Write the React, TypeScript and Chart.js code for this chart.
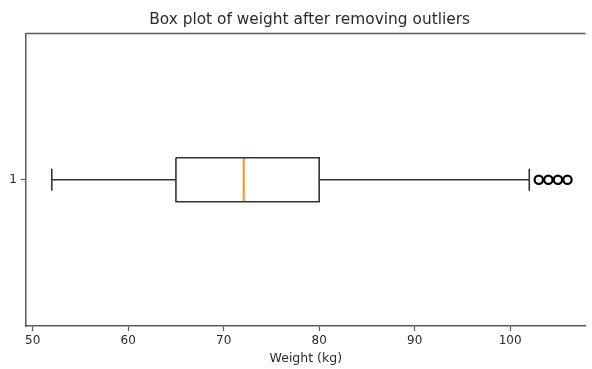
import React, { useEffect, useRef } from "react";
import { Chart, registerables } from "chart.js";

Chart.register(...registerables);

// ---- data ----
const categories = ["1"];
const positions = [1];
const q1Values = [65];
const medianValues = [72.1];
const q3Values = [80];
const whiskerLowValues = [52];
const whiskerHighValues = [102];
const outlierValues = [[103, 104, 105, 106]];
const xTickValues = [50, 60, 70, 80, 90, 100];
const xRange = [49.3, 107.9];
const yRange = [0.5, 1.5];
const titleText = "Box plot of weight after removing outliers";
const xLabelText = "Weight (kg)";

// ---- styling ----
const BOX_WIDTH = 0.15;
const CAP_WIDTH = 0.075;
const LINE_COLOR = "#333333";
const MEDIAN_COLOR = "#ff8c1a";
const TEXT_COLOR = "#2a2a2a";
const SPINE_COLOR = "#5a5a5a";
const FONT = "'DejaVu Sans', sans-serif";

export default function App() {
  const ref = useRef<HTMLCanvasElement | null>(null);

  useEffect(() => {
    if (!ref.current) return;
    const datasets: any[] = [];
    const lineDs = (data: any[], color: string, width: number) => ({
      type: "scatter",
      data,
      showLine: true,
      borderColor: color,
      borderWidth: width,
      pointRadius: 0,
      pointHoverRadius: 0,
      fill: false,
      tension: 0,
    });
    positions.forEach((p, i) => {
      const h = BOX_WIDTH / 2;
      const c = CAP_WIDTH / 2;
      const q1 = q1Values[i];
      const q3 = q3Values[i];
      const md = medianValues[i];
      const wl = whiskerLowValues[i];
      const wh = whiskerHighValues[i];
      datasets.push(
        lineDs(
          [
            { x: q1, y: p - h },
            { x: q3, y: p - h },
            { x: q3, y: p + h },
            { x: q1, y: p + h },
            { x: q1, y: p - h },
          ],
          LINE_COLOR,
          1.6
        )
      );
      datasets.push(lineDs([{ x: wl, y: p }, { x: q1, y: p }], LINE_COLOR, 1.6));
      datasets.push(lineDs([{ x: q3, y: p }, { x: wh, y: p }], LINE_COLOR, 1.6));
      datasets.push(lineDs([{ x: wl, y: p - c }, { x: wl, y: p + c }], LINE_COLOR, 1.6));
      datasets.push(lineDs([{ x: wh, y: p - c }, { x: wh, y: p + c }], LINE_COLOR, 1.6));
      datasets.push(lineDs([{ x: md, y: p - h }, { x: md, y: p + h }], MEDIAN_COLOR, 2));
      datasets.push({
        type: "scatter",
        data: outlierValues[i].map((v) => ({ x: v, y: p })),
        showLine: false,
        pointRadius: 4.2,
        pointHoverRadius: 4.2,
        pointBorderWidth: 2.2,
        pointBorderColor: "#000000",
        pointBackgroundColor: "rgba(255,255,255,0)",
        borderColor: "#000000",
      });
    });

    const frame = {
      id: "frame",
      afterLayout(chart: any) {
        const ca = chart.chartArea;
        if (chart.titleBlock) {
          chart.titleBlock.left = ca.left;
          chart.titleBlock.right = ca.left + (ca.right - ca.left) * (59.4 / (xRange[1] - xRange[0]));
        }
      },
      afterDatasetsDraw(chart: any) {
        const ctx = chart.ctx;
        const ca = chart.chartArea;
        ctx.save();
        ctx.strokeStyle = SPINE_COLOR;
        ctx.lineWidth = 1.5;
        ctx.beginPath();
        ctx.moveTo(ca.left, ca.top);
        ctx.lineTo(ca.right, ca.top);
        ctx.stroke();
        ctx.restore();
      },
    };

    const chart = new Chart(ref.current, {
      type: "scatter",
      data: { datasets },
      plugins: [frame],
      options: {
        animation: false,
        responsive: false,
        devicePixelRatio: 1,
        layout: { padding: 0 },
        plugins: {
          legend: { display: false },
          tooltip: { enabled: false },
          title: {
            display: true,
            text: titleText,
            color: TEXT_COLOR,
            font: { family: FONT, size: 15.4, weight: "normal" },
            padding: { top: 11, bottom: 4 },
          },
        },
        scales: {
          x: {
            type: "linear",
            min: xRange[0],
            max: xRange[1],
            afterBuildTicks: (axis: any) => {
              axis.ticks = xTickValues.map((v) => ({ value: v }));
            },
            afterFit: (axis: any) => {
              axis.height = 43;
            },
            ticks: {
              autoSkip: false,
              maxRotation: 0,
              color: TEXT_COLOR,
              font: { family: FONT, size: 12 },
              padding: 3,
              callback: (v: any) => String(v),
            },
            grid: {
              drawOnChartArea: false,
              drawTicks: true,
              tickLength: 5,
              tickColor: SPINE_COLOR,
              tickWidth: 1.2,
            },
            border: { display: true, color: SPINE_COLOR, width: 1.5 },
            title: {
              display: true,
              text: xLabelText,
              color: TEXT_COLOR,
              font: { family: FONT, size: 12.5 },
              padding: { top: 0, bottom: 3 },
            },
          },
          y: {
            type: "linear",
            min: yRange[0],
            max: yRange[1],
            reverse: true,
            afterBuildTicks: (axis: any) => {
              axis.ticks = positions.map((v) => ({ value: v }));
            },
            afterFit: (axis: any) => {
              axis.width = 26;
            },
            ticks: {
              autoSkip: false,
              color: TEXT_COLOR,
              font: { family: FONT, size: 12 },
              padding: 4,
              callback: (v: any) => {
                const idx = positions.indexOf(Number(v));
                return idx >= 0 ? categories[idx] : "";
              },
            },
            grid: {
              drawOnChartArea: false,
              drawTicks: true,
              tickLength: 5,
              tickColor: SPINE_COLOR,
              tickWidth: 1.2,
            },
            border: { display: true, color: SPINE_COLOR, width: 1.5 },
          },
        },
      } as any,
    } as any);
    return () => chart.destroy();
  }, []);

  return (
    <div
      style={{
        position: "fixed",
        left: 0,
        top: 0,
        width: 592,
        height: 369,
        overflow: "hidden",
        background: "#ffffff",
      }}
    >
      <canvas ref={ref} width={592} height={369} style={{ width: 592, height: 369, display: "block" }} />
    </div>
  );
}
